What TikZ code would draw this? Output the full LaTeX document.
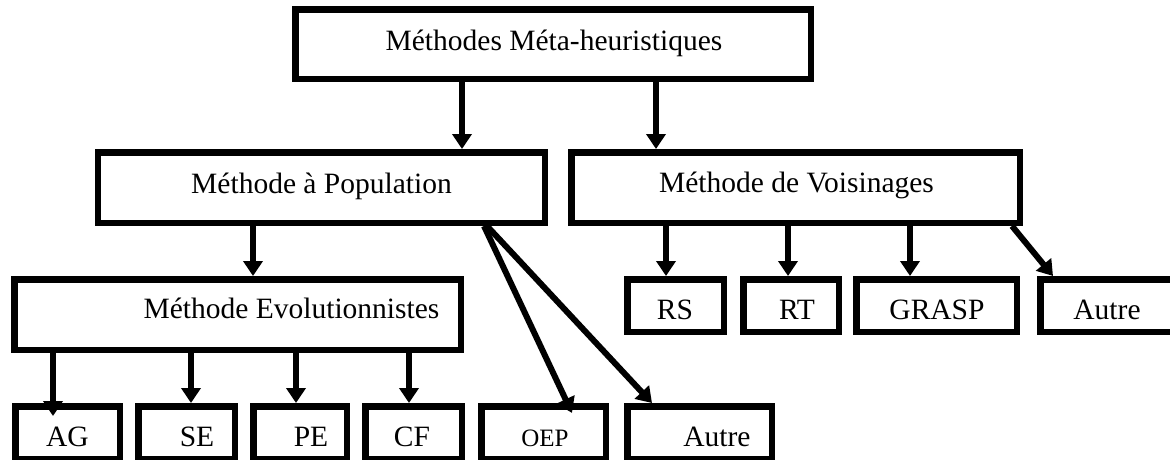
\documentclass[tikz,border=0pt]{standalone}
\usepackage{fontspec}
\setmainfont{Liberation Serif}
\usetikzlibrary{arrows.meta}

\begin{document}
\begin{tikzpicture}[x=1pt,y=-1pt,
  box/.style={draw=black, line width=6.5pt, rectangle, inner sep=0pt, fill=white},
  lbl/.style={anchor=base, inner sep=0pt, font=\fontsize{29.5}{35}\selectfont},
  small/.style={anchor=base, inner sep=0pt, font=\fontsize{25}{30}\selectfont},
  arr/.style={line width=6pt, -{Triangle[width=19pt,length=15pt]}}
]
\clip (0,0) rectangle (1170,459);
\fill[white] (0,0) rectangle (1170,459);

% boxes (centre, centre-line width and height)
\node[box, minimum width=515.5pt, minimum height=69.5pt] (top)   at (553,44)      {};
\node[box, minimum width=447pt,   minimum height=70.5pt] (pop)   at (321.25,187.5) {};
\node[box, minimum width=448.5pt, minimum height=70.5pt] (voi)   at (795.5,187.5) {};
\node[box, minimum width=446.5pt, minimum height=70.5pt] (evo)   at (237.5,314.5) {};

\node[box, minimum width=96.5pt,  minimum height=52.5pt] (rs)     at (675.5,305.5) {};
\node[box, minimum width=95.5pt,  minimum height=52.5pt] (rt)     at (791,305.5)   {};
\node[box, minimum width=160.5pt, minimum height=52.5pt] (grasp)  at (936.5,305.5) {};
\node[box, minimum width=133.5pt, minimum height=52.5pt] (autreV) at (1107,305.5)  {};

\node[box, minimum width=104.5pt, minimum height=52.5pt] (ag)     at (67.5,432.5)  {};
\node[box, minimum width=96.5pt,  minimum height=52.5pt] (se)     at (186.5,432.5) {};
\node[box, minimum width=93.5pt,  minimum height=52.5pt] (pe)     at (300,432.5)   {};
\node[box, minimum width=96.5pt,  minimum height=52.5pt] (cf)     at (413.5,432.5) {};
\node[box, minimum width=124.5pt, minimum height=52.5pt] (oep)    at (543.5,432.5) {};
\node[box, minimum width=144.5pt, minimum height=52.5pt] (autreP) at (699.5,432.5) {};

% texts
\node[lbl] (t-top)    at (554,50)    {Méthodes Méta-heuristiques};
\node[lbl] (t-pop)    at (321.5,193) {Méthode à Population};
\node[lbl] (t-voi)    at (796.5,192) {Méthode de Voisinages};
\node[lbl] (t-evo)    at (291.5,318) {Méthode Evolutionnistes};

\node[lbl] (t-rs)     at (675,319)  {RS};
\node[lbl] (t-rt)     at (797,319)  {RT};
\node[lbl] (t-grasp)  at (937,319)  {GRASP};
\node[lbl] (t-autreV) at (1107,319) {Autre};

\node[lbl]   (t-ag)     at (67.5,446) {AG};
\node[lbl]   (t-se)     at (197,446)  {SE};
\node[lbl]   (t-pe)     at (311,446)  {PE};
\node[lbl]   (t-cf)     at (412,446)  {CF};
\node[small] (t-oep)    at (545,446)  {OEP};
\node[lbl]   (t-autreP) at (717,446)  {Autre};

% connectors
\draw[arr] (top.south -| 462,0) -- (pop.north -| 462,0);
\draw[arr] (top.south -| 656,0) -- (voi.north -| 656,0);

\draw[arr] (pop.south -| 253,0) -- (evo.north -| 253,0);
\draw[arr, shorten >=-11pt] (pop.south -| 484,0) -- (oep.north -| 567.3,0);
\draw[arr] (pop.south -| 487,0) -- (autreP.north -| 652,0);

\draw[arr, shorten >=-13pt] (evo.south -| 53,0) -- (ag.north -| 53,0);
\draw[arr] (evo.south -| 191,0) -- (se.north -| 191,0);
\draw[arr] (evo.south -| 296,0) -- (pe.north -| 296,0);
\draw[arr] (evo.south -| 409,0) -- (cf.north -| 409,0);

\draw[arr] (voi.south -| 666,0) -- (rs.north -| 666,0);
\draw[arr] (voi.south -| 788,0) -- (rt.north -| 788,0);
\draw[arr] (voi.south -| 910,0) -- (grasp.north -| 910,0);
\draw[arr] (voi.south -| 1012,0) -- (autreV.north -| 1053,0);
\end{tikzpicture}
\end{document}
